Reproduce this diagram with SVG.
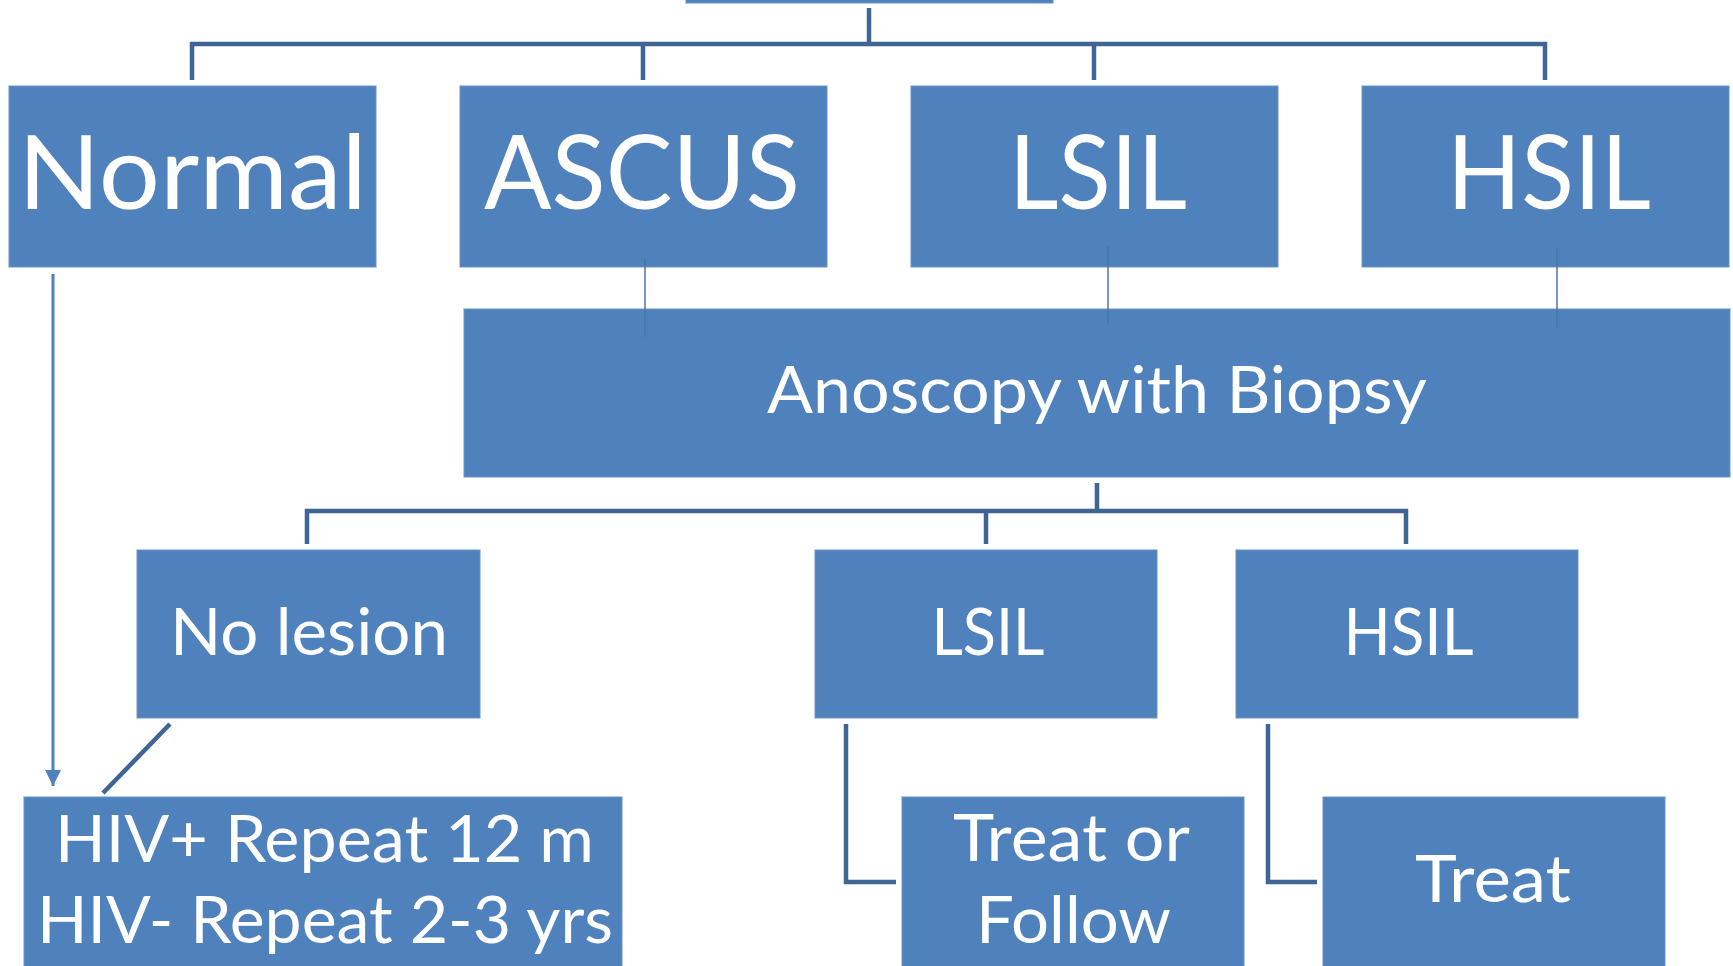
<svg xmlns="http://www.w3.org/2000/svg" width="1733" height="966" viewBox="0 0 1733 966">
<style>
.box{fill:#4f81bd;stroke:#6b93c8;stroke-width:1}
.t{font-family:Lato,"Open Sans","Liberation Sans",sans-serif;fill:#ffffff;text-anchor:middle}
.big{font-size:103px}
.mid{font-size:66px}
.con{fill:none;stroke:#3f6596;stroke-width:4.5}
.thin{fill:none;stroke:#4675b0;stroke-width:1.5}
.arr{fill:none;stroke:#4f81bd;stroke-width:3}
</style>
<defs>
<marker id="ah" viewBox="0 0 10 10" refX="10" refY="5" markerWidth="16" markerHeight="16" markerUnits="userSpaceOnUse" orient="auto">
<path d="M0,0 L10,5 L0,10 z" fill="#4f81bd"/>
</marker>
</defs>
<g id="top"><rect class="box" x="686" y="-100" width="367" height="103"/></g>
<g id="connectors">
<path class="con" d="M869,8 V44 M192,80 V44 H1545 V80 M643,44 V80 M1094,44 V80"/>
<path class="con" d="M1097,483 V511 M307,544 V511 H1406 V544 M986,511 V544"/>
<path class="con" d="M170,724 L103,793"/>
<path class="con" d="M846,724 V882 H896"/>
<path class="con" d="M1268,724 V882 H1317"/>
<path class="arr" d="M53,274 V786" marker-end="url(#ah)"/>
</g>
<g id="normal"><rect class="box" x="9" y="86" width="367" height="181"/><text class="t big" x="192.5" y="209" textLength="349" lengthAdjust="spacingAndGlyphs">Normal</text></g>
<g id="ascus"><rect class="box" x="460" y="86" width="367" height="181"/><text class="t big" x="642" y="209" textLength="316" lengthAdjust="spacingAndGlyphs">ASCUS</text></g>
<g id="lsil"><rect class="box" x="911" y="86" width="367" height="181"/><text class="t big" x="1098" y="209" textLength="178" lengthAdjust="spacingAndGlyphs">LSIL</text></g>
<g id="hsil"><rect class="box" x="1362" y="86" width="367" height="181"/><text class="t big" x="1549" y="209" textLength="204" lengthAdjust="spacingAndGlyphs">HSIL</text></g>
<g id="anoscopy"><rect class="box" x="464" y="309" width="1266" height="168"/><text class="t mid" x="1097" y="413" textLength="660" lengthAdjust="spacingAndGlyphs">Anoscopy with Biopsy</text></g>
<g id="thinlinks">
<path class="thin" d="M645,258 V337 M1108,246 V325 M1557,248 V328"/>
</g>
<g id="nolesion"><rect class="box" x="137" y="550" width="343" height="168"/><text class="t mid" x="309" y="655" textLength="278" lengthAdjust="spacingAndGlyphs">No lesion</text></g>
<g id="lsil2"><rect class="box" x="815" y="550" width="342" height="168"/><text class="t mid" x="988" y="655" textLength="113" lengthAdjust="spacingAndGlyphs">LSIL</text></g>
<g id="hsil2"><rect class="box" x="1236" y="550" width="342" height="168"/><text class="t mid" x="1408.5" y="655" textLength="130" lengthAdjust="spacingAndGlyphs">HSIL</text></g>
<g id="hiv"><rect class="box" x="24" y="797" width="598" height="170"/>
<text class="t mid" x="324.5" y="862" textLength="539" lengthAdjust="spacingAndGlyphs">HIV+ Repeat 12 m</text>
<text class="t mid" x="325" y="943" textLength="576" lengthAdjust="spacingAndGlyphs">HIV- Repeat 2-3 yrs</text></g>
<g id="treatorfollow"><rect class="box" x="902" y="797" width="342" height="170"/>
<text class="t mid" x="1071.5" y="861" textLength="237" lengthAdjust="spacingAndGlyphs">Treat or</text>
<text class="t mid" x="1073.5" y="943" textLength="195" lengthAdjust="spacingAndGlyphs">Follow</text></g>
<g id="treat"><rect class="box" x="1323" y="797" width="342" height="170"/><text class="t mid" x="1493" y="902" textLength="156" lengthAdjust="spacingAndGlyphs">Treat</text></g>
</svg>
